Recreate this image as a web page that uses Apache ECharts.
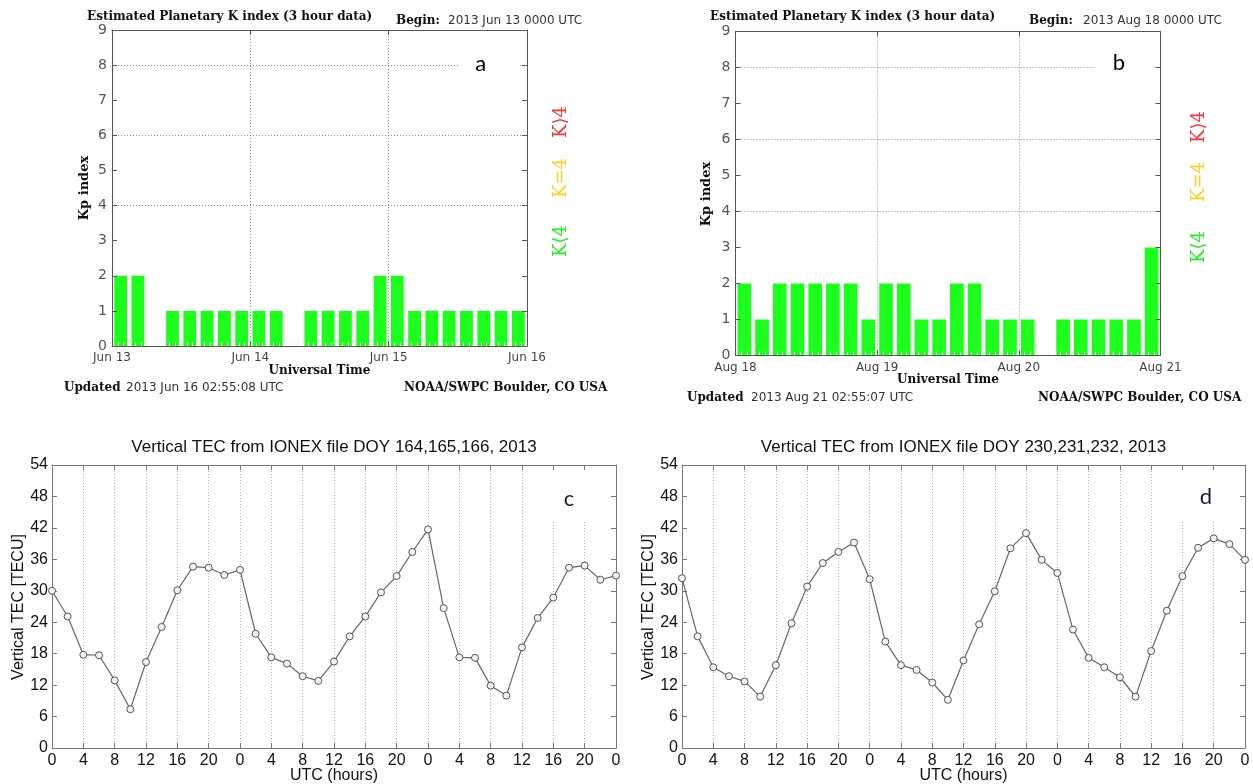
<!DOCTYPE html>
<html>
<head>
<meta charset="utf-8">
<script src="https://cdn.jsdelivr.net/npm/echarts@6/dist/echarts.min.js"></script>
<style>
  html, body { margin: 0; padding: 0; background: #fff; }
  #chart { width: 1253px; height: 784px; }
</style>
</head>
<body>
<div id="chart"></div>
<script>
// Estimated planetary K index, one value per 3-hour interval (8 per day, 3 days)
const kpJuneValues = [2, 2, 0, 1, 1, 1, 1, 1,  1, 1, 0, 1, 1, 1, 1, 2,  2, 1, 1, 1, 1, 1, 1, 1];
const kpAugValues  = [2, 1, 2, 2, 2, 2, 2, 1,  2, 2, 1, 1, 2, 2, 1, 1,  1, 0, 1, 1, 1, 1, 1, 3];
const kpJuneDays = ['Jun 13', 'Jun 14', 'Jun 15', 'Jun 16'];
const kpAugDays  = ['Aug 18', 'Aug 19', 'Aug 20', 'Aug 21'];

// Vertical TEC (TECU), sampled every 2 hours over 72 hours
const tecDoy164 = [30.0, 25.1, 17.8, 17.7, 12.9, 7.4, 16.4, 23.1, 30.1, 34.6, 34.4, 33.0,
                   34.0, 21.8, 17.3, 16.1, 13.7, 12.8, 16.5, 21.3, 25.1, 29.7, 32.8, 37.4,
                   41.7, 26.7, 17.3, 17.2, 11.9, 10.0, 19.2, 24.8, 28.7, 34.4, 34.8, 32.1, 32.9];
const tecDoy230 = [32.4, 21.3, 15.4, 13.7, 12.7, 9.8, 15.8, 23.8, 30.8, 35.3, 37.4, 39.2,
                   32.2, 20.3, 15.8, 14.9, 12.5, 9.2, 16.7, 23.6, 29.9, 38.1, 41.0, 35.9,
                   33.4, 22.6, 17.2, 15.4, 13.5, 9.8, 18.5, 26.2, 32.8, 38.2, 40.0, 38.9, 35.9];
const hourLabels = ['0', '4', '8', '12', '16', '20', '0', '4', '8', '12', '16', '20',
                    '0', '4', '8', '12', '16', '20', '0'];
const kpTicks = [0, 1, 2, 3, 4, 5, 6, 7, 8, 9];
const tecTicks = [0, 6, 12, 18, 24, 30, 36, 42, 48, 54];

const SANS = '"DejaVu Sans"';
const SERIF = '"DejaVu Serif"';
const ARIAL = '"Liberation Sans", Arial';

const slotNames = kpJuneValues.map((_, i) => 'slot' + i);
const tecHours = tecDoy164.map((_, i) => i * 2);

const grids = [
  { left: 112,   top: 30,   width: 415, height: 316 },
  { left: 735.5, top: 31.5, width: 425, height: 324 },
  { left: 52,    top: 465,  width: 564, height: 283 },
  { left: 682,   top: 465,  width: 563, height: 283 }
].map(g => Object.assign({ containLabel: false, outerBoundsMode: 'none' }, g));

const xAxes = [];
const yAxes = [];
const series = [];

const dotted = (c) => ({ show: true, lineStyle: { type: [1, 2], color: c, width: 1 } });

function kpPanel(gi, values, days, gap) {
  const catIdx = xAxes.length;
  xAxes.push({ type: 'category', gridIndex: gi, data: slotNames, boundaryGap: true, show: false });
  // day boundaries with labels
  xAxes.push({
    type: 'value', gridIndex: gi, position: 'bottom', min: 0, max: 72, interval: 24, z: 5,
    axisLine: { show: true, onZero: false, lineStyle: { color: '#555', width: 1 } },
    axisTick: { show: true, inside: true, length: 5, lineStyle: { color: '#555' } },
    axisLabel: { color: '#444', fontFamily: SANS, fontSize: 12, margin: 6,
                 formatter: v => days[Math.round(v / 24)] },
    splitLine: dotted('#9a9a9a')
  });
  // hourly tick marks at the foot of the bars
  xAxes.push({
    type: 'value', gridIndex: gi, position: 'bottom', min: 0, max: 72, interval: 1, z: 4,
    axisLine: { show: false, onZero: false },
    axisTick: { show: true, inside: true, length: 4, lineStyle: { color: '#eaffea' } },
    axisLabel: { show: false }, splitLine: { show: false }
  });
  xAxes.push({
    type: 'value', gridIndex: gi, position: 'top', min: 0, max: 72, interval: 24, z: 5,
    axisLine: { show: true, onZero: false, lineStyle: { color: '#555', width: 1 } },
    axisTick: { show: true, inside: true, length: 5, lineStyle: { color: '#555' } },
    axisLabel: { show: false }, splitLine: { show: false }
  });
  const yIdx = yAxes.length;
  yAxes.push({
    type: 'value', gridIndex: gi, position: 'left', min: 0, max: 9, interval: 1, z: 5,
    axisLine: { show: true, onZero: false, lineStyle: { color: '#555', width: 1 } },
    axisTick: { show: true, inside: true, length: 5, lineStyle: { color: '#555' } },
    axisLabel: { color: '#555', fontFamily: SANS, fontSize: 14, margin: 5,
                 formatter: v => String(kpTicks[v]) },
    splitLine: { show: false }
  });
  yAxes.push({
    type: 'value', gridIndex: gi, position: 'right', min: 0, max: 9, interval: 1, z: 5,
    axisLine: { show: true, onZero: false, lineStyle: { color: '#555', width: 1 } },
    axisTick: { show: true, inside: true, length: 5, lineStyle: { color: '#555' } },
    axisLabel: { show: false }, splitLine: { show: false }
  });
  series.push({
    type: 'bar', xAxisIndex: catIdx, yAxisIndex: yIdx, data: values,
    barCategoryGap: gap, silent: true,
    itemStyle: { color: '#1cff1c' },
    markLine: {
      silent: true, symbol: 'none', label: { show: false },
      lineStyle: { type: [1, 2], color: '#8a8a8a', width: 1 },
      data: [{ yAxis: 4 }, { yAxis: 6 }, { yAxis: 8 }]
    }
  });
}

function tecPanel(gi, values) {
  const xIdx = xAxes.length;
  xAxes.push({
    type: 'value', gridIndex: gi, position: 'bottom', min: 0, max: 72, interval: 4, z: 5,
    axisLine: { show: true, onZero: false, lineStyle: { color: '#777', width: 1 } },
    axisTick: { show: true, inside: true, length: 5, lineStyle: { color: '#777' } },
    axisLabel: { color: '#111', fontFamily: ARIAL, fontSize: 16, margin: 5,
                 formatter: v => hourLabels[Math.round(v / 4)] },
    splitLine: dotted('#b0b0b0')
  });
  xAxes.push({
    type: 'value', gridIndex: gi, position: 'top', min: 0, max: 72, interval: 4, z: 5,
    axisLine: { show: true, onZero: false, lineStyle: { color: '#777', width: 1 } },
    axisTick: { show: true, inside: true, length: 5, lineStyle: { color: '#777' } },
    axisLabel: { show: false }, splitLine: { show: false }
  });
  const yIdx = yAxes.length;
  yAxes.push({
    type: 'value', gridIndex: gi, position: 'left', min: 0, max: 54, interval: 6, z: 5,
    axisLine: { show: true, onZero: false, lineStyle: { color: '#777', width: 1 } },
    axisTick: { show: true, inside: true, length: 5, lineStyle: { color: '#777' } },
    axisLabel: { color: '#111', fontFamily: ARIAL, fontSize: 16, margin: 4,
                 formatter: v => String(tecTicks[Math.round(v / 6)]) },
    splitLine: { show: false }
  });
  yAxes.push({
    type: 'value', gridIndex: gi, position: 'right', min: 0, max: 54, interval: 6, z: 5,
    axisLine: { show: true, onZero: false, lineStyle: { color: '#777', width: 1 } },
    axisTick: { show: true, inside: true, length: 5, lineStyle: { color: '#777' } },
    axisLabel: { show: false }, splitLine: { show: false }
  });
  series.push({
    type: 'line', xAxisIndex: xIdx, yAxisIndex: yIdx, silent: true, z: 6,
    data: tecHours.map((h, i) => [h, values[i]]),
    symbol: 'circle', symbolSize: 7, showSymbol: true,
    lineStyle: { color: '#666', width: 1.2 },
    itemStyle: { color: '#f2f2f2', borderColor: '#555', borderWidth: 1 }
  });
}

kpPanel(0, kpJuneValues, kpJuneDays, '26%');
kpPanel(1, kpAugValues, kpAugDays, '23%');
tecPanel(2, tecDoy164);
tecPanel(3, tecDoy230);

function txt(text, x, y, font, fill, align, rot) {
  return {
    type: 'text', x: x, y: y, z: 20, rotation: rot || 0, silent: true,
    style: { text: text, font: font, fill: fill || '#111',
             textAlign: align || 'left', align: align || 'left',
             textVerticalAlign: 'middle', verticalAlign: 'middle' }
  };
}
function box(x, y, w, h) {
  return { type: 'rect', z: 15, silent: true, shape: { x: x, y: y, width: w, height: h },
           style: { fill: '#fff' } };
}

const UP = Math.PI / 2;
const headBold = 'bold 12px ' + SERIF;
const plain = '12px ' + SANS;
const legendFont = '18px "DejaVu Serif", "DejaVu Sans"';
const letterFont = '22px Lato';
const tecFont = '16px ' + ARIAL;

const graphics = [
  // panel a
  txt('Estimated Planetary K index (3 hour data)', 87, 17, headBold),
  txt('Begin:', 396, 21, headBold),
  txt('2013 Jun 13 0000 UTC', 448, 21, plain, '#333'),
  txt('Kp index', 85, 188, 'bold 13px ' + SERIF, '#111', 'center', UP),
  txt('Universal Time', 319.5, 371, headBold, '#111', 'center'),
  txt('Updated', 64, 388, headBold),
  txt('2013 Jun 16 02:55:08 UTC', 126, 388, plain, '#333'),
  txt('NOAA/SWPC Boulder, CO USA', 404, 388, headBold),
  box(458, 50, 61, 32),
  txt('a', 480.7, 64, letterFont, '#000', 'center'),
  txt('K\u27E94', 561.5, 122, legendFont, '#ff3333', 'center', UP),
  txt('K=4', 561.5, 178, legendFont, '#ffd21f', 'center', UP),
  txt('K\u27E84', 561.5, 241, legendFont, '#22ee22', 'center', UP),

  // panel b
  txt('Estimated Planetary K index (3 hour data)', 710, 17, headBold),
  txt('Begin:', 1029, 21, headBold),
  txt('2013 Aug 18 0000 UTC', 1083, 21, plain, '#333'),
  txt('Kp index', 707, 194, 'bold 13px ' + SERIF, '#111', 'center', UP),
  txt('Universal Time', 948, 380, headBold, '#111', 'center'),
  txt('Updated', 687, 398, headBold),
  txt('2013 Aug 21 02:55:07 UTC', 751, 398, plain, '#333'),
  txt('NOAA/SWPC Boulder, CO USA', 1038, 398, headBold),
  box(1094, 50, 59, 33),
  txt('b', 1119, 63, letterFont, '#000', 'center'),
  txt('K\u27E94', 1199, 127, legendFont, '#ff3333', 'center', UP),
  txt('K=4', 1199, 182, legendFont, '#ffd21f', 'center', UP),
  txt('K\u27E84', 1199, 247, legendFont, '#22ee22', 'center', UP),

  // panel c
  txt('Vertical TEC from IONEX file DOY 164,165,166, 2013', 334, 447, '17px ' + ARIAL, '#111', 'center'),
  txt('Vertical TEC [TECU]', 18.5, 607, tecFont, '#111', 'center', UP),
  txt('UTC (hours)', 334, 776, tecFont, '#111', 'center'),
  box(532, 470, 74, 50),
  txt('c', 569, 499, letterFont, '#1a1a33', 'center'),

  // panel d
  txt('Vertical TEC from IONEX file DOY 230,231,232, 2013', 963.5, 447, '17px ' + ARIAL, '#111', 'center'),
  txt('Vertical TEC [TECU]', 648.5, 607, tecFont, '#111', 'center', UP),
  txt('UTC (hours)', 963.5, 776, tecFont, '#111', 'center'),
  box(1160, 470, 76, 50),
  txt('d', 1206, 497, letterFont, '#1a1a33', 'center')
];

const chart = echarts.init(document.getElementById('chart'), null, { renderer: 'canvas' });
chart.setOption({
  animation: false,
  backgroundColor: '#fff',
  grid: grids,
  xAxis: xAxes,
  yAxis: yAxes,
  series: series,
  graphic: { elements: graphics }
});
</script>
</body>
</html>
